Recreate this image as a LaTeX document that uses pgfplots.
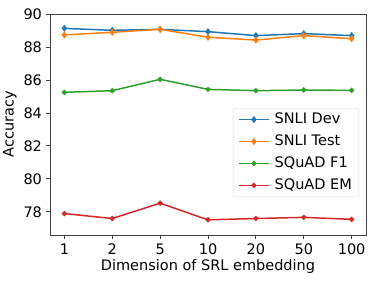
\documentclass[border=0pt]{standalone}
\usepackage{pgfplots}
\pgfplotsset{compat=1.18}
\usepackage{fontspec}
\setmainfont{DejaVu Sans}
\definecolor{c1}{HTML}{1F77B4}
\definecolor{c2}{HTML}{FF7F0E}
\definecolor{c3}{HTML}{2CA02C}
\definecolor{c4}{HTML}{D62728}
\newcommand{\ff}{\fontsize{14.5bp}{17bp}\selectfont}
\begin{document}
\ff
\begin{tikzpicture}
\begin{axis}[
  name=ax,
  scale only axis, width=316bp, height=221bp,
  xmin=-0.3, xmax=6.3, ymin=76.6, ymax=90,
  xtick={0,1,2,3,4,5,6}, xticklabels={1,2,5,10,20,50,100},
  ytick={78,80,82,84,86,88,90},
  tick align=outside, tick pos=left,
  major tick length=4bp,
  /pgf/number format/assume math mode=true,
  ticklabel style={font=\ff},
  label style={font=\ff},
  yticklabel style={xshift=1bp},
  xlabel={Dimension of SRL embedding},
  ylabel={Accuracy},
  xlabel style={yshift=5bp},
  ylabel style={yshift=-3bp},
  axis line style={black!75, line width=0.9pt},
  every tick/.style={black!75, line width=0.9pt},
  legend style={at={(0.978,0.172)}, anchor=south east, draw=black!15, rounded corners=2bp,
    font=\ff, nodes={font=\ff}, row sep=5bp, column sep=3bp, inner xsep=5bp, inner ysep=3bp},
  legend cell align=left,
  legend image code/.code={\draw[mark repeat=2,mark phase=2] plot coordinates {(0bp,0bp) (15bp,0bp) (30bp,0bp)};},
  every axis plot/.append style={line width=1.5pt},
]
\addplot[c1, mark=diamond*, mark size=2.4pt] coordinates {(0,89.13) (1,89.01) (2,89.07) (3,88.93) (4,88.69) (5,88.81) (6,88.69)};
\addlegendentry{SNLI Dev}
\addplot[c2, mark=diamond*, mark size=2.4pt] coordinates {(0,88.73) (1,88.89) (2,89.07) (3,88.59) (4,88.42) (5,88.69) (6,88.50)};
\addlegendentry{SNLI Test}
\addplot[c3, mark=*, mark size=1.8pt] coordinates {(0,85.25) (1,85.35) (2,86.04) (3,85.43) (4,85.35) (5,85.39) (6,85.37)};
\addlegendentry{SQuAD F1}
\addplot[c4, mark=*, mark size=1.8pt] coordinates {(0,77.9) (1,77.6) (2,78.53) (3,77.52) (4,77.6) (5,77.67) (6,77.55)};
\addlegendentry{SQuAD EM}
\end{axis}
\pgfresetboundingbox
\useasboundingbox ([xshift=-50bp,yshift=-47bp]ax.south west) rectangle ([xshift=12bp,yshift=14bp]ax.north east);
\end{tikzpicture}
\end{document}
